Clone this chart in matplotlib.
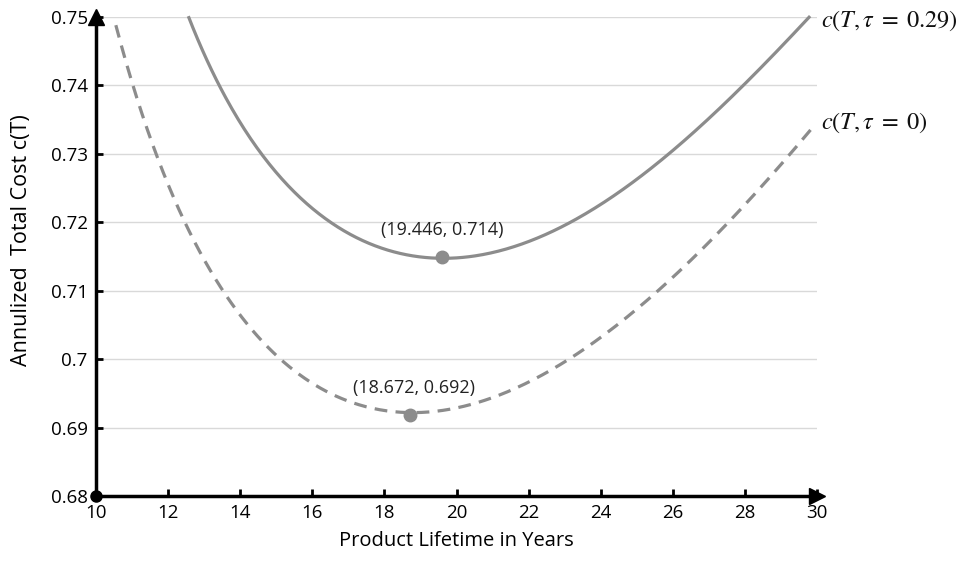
import matplotlib
matplotlib.use("Agg")
import matplotlib.pyplot as plt
import numpy as np

# Data
T_tau029 = [12.56, 13.44, 14.55, 16.40, 16.77, 17.69, 18.62, 19.61, 20.93, 22.32, 23.43, 23.98, 25.92, 27.96, 29.81]
c_tau029 = [0.7500, 0.7401, 0.7301, 0.7201, 0.7191, 0.7169, 0.7153, 0.7149, 0.7155, 0.7174, 0.7211, 0.7225, 0.7301, 0.7401, 0.7501]

T_tau0 = [10.55, 11.02, 11.66, 12.45, 13.51, 15.09, 16.03, 16.95, 17.97, 18.71, 19.73, 20.93, 22.41, 23.43, 25.65, 27.59, 29.16, 29.90]
c_tau0 = [0.7488, 0.7401, 0.7301, 0.7201, 0.7101, 0.7001, 0.6965, 0.6940, 0.6926, 0.6918, 0.6926, 0.6943, 0.6979, 0.7013, 0.7100, 0.7200, 0.7301, 0.7336]

min_tau029 = (19.61, 0.7149)
min_tau0 = (18.71, 0.6918)
min_labels = ["(19.446, 0.714)", "(18.672, 0.692)"]

x_ticks = list(range(10, 31, 2))
y_ticks = [0.68, 0.69, 0.70, 0.71, 0.72, 0.73, 0.74, 0.75]
y_ticklabels = ["0.68", "0.69", "0.7", "0.71", "0.72", "0.73", "0.74", "0.75"]

series_labels = [r"$c(T,\tau\;=\;0.29)$", r"$c(T,\tau\;=\;0)$"]

plt.rcParams['font.family'] = ['Open Sans', 'DejaVu Sans']
plt.rcParams['mathtext.fontset'] = 'stix'

fig = plt.figure(figsize=(9.64, 5.61), dpi=100)
ax = fig.add_axes([0.0996, 0.1159, 0.7479, 0.8538])

grey = '#8c8c8c'

def smooth(xs, ys, n=400):
    # least-squares smooth curve through the points
    xs = np.asarray(xs, float); ys = np.asarray(ys, float)
    basis = lambda t: np.vstack([1/t**2, 1/t, np.ones_like(t), t, t**2, t**3]).T
    coef, *_ = np.linalg.lstsq(basis(xs), ys, rcond=None)
    xx = np.linspace(xs[0], xs[-1], n)
    return xx, basis(xx) @ coef

for v in y_ticks:
    ax.axhline(v, color='#d9d9d9', lw=1.0, zorder=0)

xs, ys = smooth(T_tau029, c_tau029)
ax.plot(xs, ys, color=grey, lw=2.3, solid_capstyle='butt', clip_on=False, zorder=3)
xs, ys = smooth(T_tau0, c_tau0)
ax.plot(xs, ys, color=grey, lw=2.3, ls=(0, (4.0, 2.6)), clip_on=False, zorder=3)

ax.plot(*min_tau029, 'o', color=grey, ms=9, zorder=4)
ax.plot(*min_tau0, 'o', color=grey, ms=9, zorder=4)
ax.annotate(min_labels[0], min_tau029, xytext=(0, 19.5), textcoords='offset points',
            ha='center', va='center', fontsize=13, color='#222222')
ax.annotate(min_labels[1], min_tau0, xytext=(3, 19.5), textcoords='offset points',
            ha='center', va='center', fontsize=13, color='#222222')

ax.text(30.12, 0.7495, series_labels[0], fontsize=17.5, va='center', ha='left', color='#111111')
ax.text(30.12, 0.7345, series_labels[1], fontsize=17.5, va='center', ha='left', color='#111111')

ax.set_xlim(10, 30)
ax.set_ylim(0.68, 0.75)
ax.set_xticks(x_ticks)
ax.set_xticklabels([str(t) for t in x_ticks])
ax.set_yticks(y_ticks)
ax.set_yticklabels(y_ticklabels)
ax.tick_params(direction='in', length=5, width=2, labelsize=13.5, pad=6, colors='black')

for s in ['top', 'right']:
    ax.spines[s].set_visible(False)
for s in ['left', 'bottom']:
    ax.spines[s].set_linewidth(2.5)

ax.plot([0], [1], '^', transform=ax.transAxes, color='black', ms=11, clip_on=False, zorder=5)
ax.plot([1], [0], '>', transform=ax.transAxes, color='black', ms=11, clip_on=False, zorder=5)
ax.plot([0], [0], 'o', transform=ax.transAxes, color='black', ms=8, clip_on=False, zorder=5)

ax.set_xlabel("Product Lifetime in Years", fontsize=14.5, labelpad=6)
fig.text(22/964, 1 - 240/561, "Annulized  Total Cost c(T)", rotation=90,
         ha='center', va='center', fontsize=15.5)

fig.savefig("out.png", dpi=100)
